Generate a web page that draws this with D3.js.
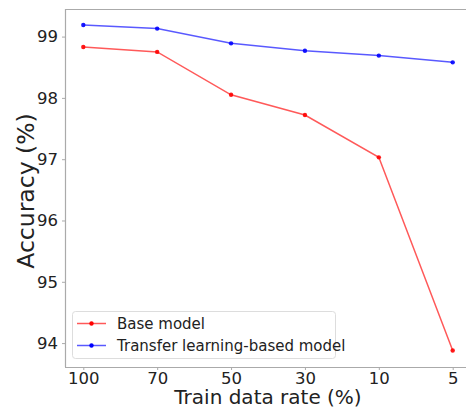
<!DOCTYPE html>
<html><head><meta charset="utf-8">
<script src="https://cdn.jsdelivr.net/npm/d3@7"></script>
<style>body{margin:0;background:#fff}svg{display:block}</style>
</head><body>
<svg id="c" width="466" height="410"></svg>
<script>
const categories = ["100","70","50","30","10","5"];
const baseModel = [98.83, 98.75, 98.05, 97.72, 97.03, 93.88];
const transferModel = [99.19, 99.13, 98.89, 98.77, 98.69, 98.58];
const yTicks = [94, 95, 96, 97, 98, 99];
const seriesNames = ["Base model", "Transfer learning-based model"];
const seriesColors = ["#ff0000", "#0000ff"];

const svg = d3.select("#c");
const font = "DejaVu Sans, sans-serif";
const L = 65, R = 471, T = 9, B = 367;

const x = d3.scalePoint().domain(categories).range([83.3, 452.7]);
const y = d3.scaleLinear().domain([93.61, 99.45]).range([B, T]);

// spines
const spine = "#aaaaaa";
svg.append("line").attr("x1",L).attr("x2",R).attr("y1",T+0.5).attr("y2",T+0.5).attr("stroke",spine).attr("stroke-width",1.2);
svg.append("line").attr("x1",L).attr("x2",R).attr("y1",B+0.5).attr("y2",B+0.5).attr("stroke",spine).attr("stroke-width",1.2);
svg.append("line").attr("x1",L+0.5).attr("x2",L+0.5).attr("y1",T).attr("y2",B).attr("stroke",spine).attr("stroke-width",1.2);

// axes
const yAxis = svg.append("g").attr("transform",`translate(${L},0)`)
  .call(d3.axisLeft(y).tickValues(yTicks).tickSize(3).tickPadding(4).tickFormat(d3.format("d")));
const xAxis = svg.append("g").attr("transform",`translate(0,${B})`)
  .call(d3.axisBottom(x).tickSize(3).tickPadding(2));
[yAxis, xAxis].forEach(g => {
  g.select(".domain").remove();
  g.selectAll(".tick line").attr("stroke", spine);
  g.selectAll(".tick text").attr("fill","#222").style("font-family",font).style("font-size","16.5px");
});

// axis labels
svg.append("text").attr("x",(L+R)/2).attr("y",404).attr("text-anchor","middle")
  .style("font-family",font).style("font-size","20px").attr("fill","#222").text("Train data rate (%)");
svg.append("text").attr("transform","translate(34,191) rotate(-90)").attr("text-anchor","middle")
  .style("font-family",font).style("font-size","23.5px").attr("fill","#222").text("Accuracy (%)");

// lines
const line = d3.line().x((d,i)=>x(categories[i])).y(d=>y(d));
[baseModel, transferModel].forEach((vals, k) => {
  svg.append("path").datum(vals).attr("d", line).attr("fill","none")
    .attr("stroke", seriesColors[k]).attr("stroke-opacity",0.65).attr("stroke-width",1.5);
  svg.selectAll(null).data(vals).enter().append("circle")
    .attr("cx",(d,i)=>x(categories[i])).attr("cy",d=>y(d)).attr("r",2.2)
    .attr("fill",seriesColors[k]).attr("fill-opacity",0.9);
});

// legend
const lg = svg.append("g");
lg.append("rect").attr("x",72.5).attr("y",311.5).attr("width",263).attr("height",47).attr("rx",3)
  .attr("fill","#fff").attr("fill-opacity",0.8).attr("stroke","#dddddd");
seriesNames.forEach((n,k) => {
  const yy = 323.5 + k*22;
  lg.append("line").attr("x1",77).attr("x2",106).attr("y1",yy).attr("y2",yy)
    .attr("stroke",seriesColors[k]).attr("stroke-opacity",0.65).attr("stroke-width",1.5);
  lg.append("circle").attr("cx",91.5).attr("cy",yy).attr("r",2.2).attr("fill",seriesColors[k]);
  lg.append("text").attr("x",117).attr("y",yy+5.5).style("font-family",font).style("font-size","15px")
    .attr("fill","#222").text(n);
});
</script>
</body></html>
